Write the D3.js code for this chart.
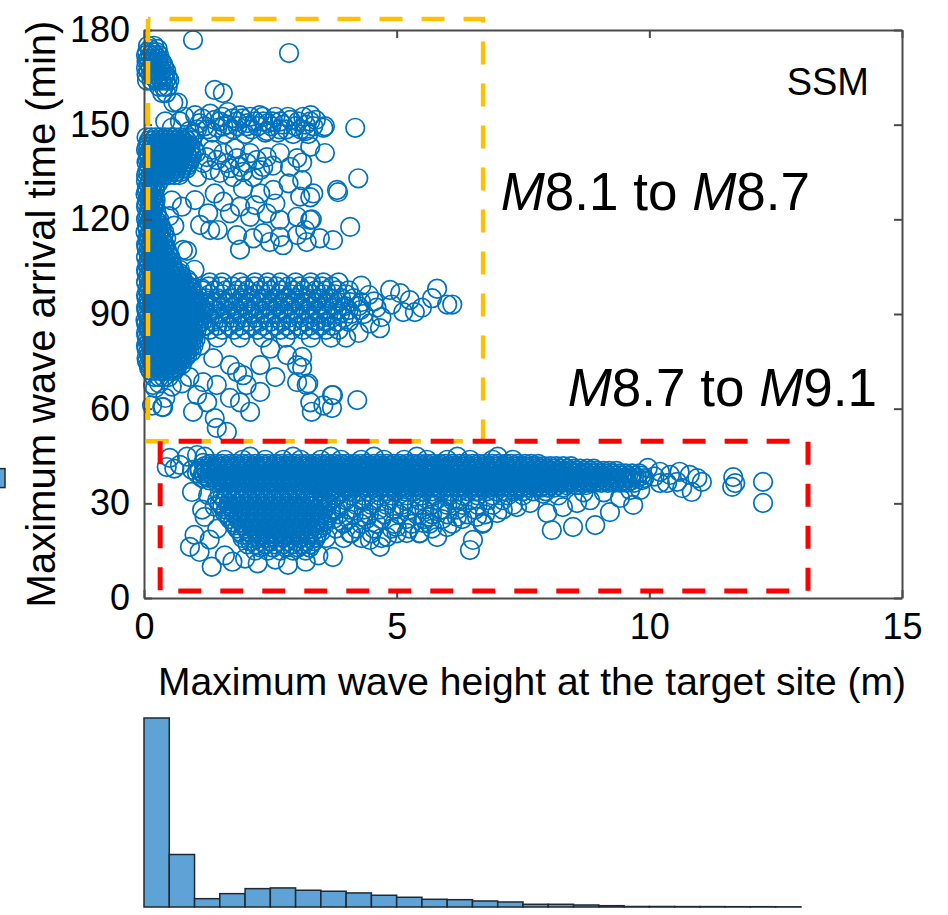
<!DOCTYPE html>
<html><head><meta charset="utf-8">
<script src="https://cdn.jsdelivr.net/npm/d3@7"></script>
<style>body{margin:0;background:#fff}</style>
</head><body>
<svg id="c" width="948" height="915"></svg>
<script>
// ---------- tick values ----------
const xTicks = [0, 5, 10, 15];
const yTicks = [0, 30, 60, 90, 120, 150, 180];

// ---------- scatter data (height m, arrival min) ----------
// dense zones written as rows: [arrival, [heights...]]
const topLeftRows = [
  [175, [0.08, 0.2]],
  [174, [0.12, 0.27]],
  [173, [0.06, 0.17, 0.25]],
  [172, [0.04, 0.13, 0.22, 0.3]],
  [171, [0.09, 0.19, 0.28]],
  [170, [0.05, 0.17, 0.26, 0.35]],
  [169, [0.1, 0.2, 0.3, 0.38]],
  [168, [0.04, 0.13, 0.22, 0.31, 0.4]],
  [167, [0.09, 0.18, 0.27, 0.36, 0.44]],
  [166, [0.05, 0.14, 0.23, 0.32, 0.41]],
  [165, [0.2, 0.3, 0.39, 0.47]],
  [164, [0.06, 0.15, 0.25, 0.34, 0.43, 0.5]],
  [162, [0.3, 0.39, 0.47]],
  [160, [0.36, 0.44]]
];
const blockRows = [
  [146, [0.05, 0.14, 0.23, 0.33, 0.42, 0.52, 0.61, 0.71, 0.8, 0.9]],
  [145, [0.1, 0.19, 0.28, 0.38, 0.47, 0.57, 0.66, 0.76, 0.85, 0.95]],
  [144, [0.08, 0.18, 0.28, 0.37, 0.47, 0.56, 0.66, 0.75, 0.85]],
  [143, [0.06, 0.15, 0.25, 0.34, 0.44, 0.53, 0.63, 0.72, 0.82, 0.92]],
  [142, [0.04, 0.13, 0.23, 0.32, 0.42, 0.51, 0.61, 0.7, 0.8, 0.9, 1.0]],
  [141, [0.08, 0.17, 0.27, 0.36, 0.46, 0.55, 0.65, 0.74, 0.84, 0.94, 1.03]],
  [140, [0.09, 0.18, 0.28, 0.37, 0.47, 0.56, 0.66, 0.76, 0.85, 0.95]],
  [139, [0.07, 0.16, 0.26, 0.35, 0.45, 0.54, 0.64, 0.73, 0.83, 0.92]],
  [138, [0.05, 0.14, 0.24, 0.33, 0.43, 0.52, 0.62, 0.71, 0.81, 0.9]],
  [137, [0.1, 0.2, 0.29, 0.39, 0.48, 0.58, 0.67, 0.77, 0.86]],
  [136, [0.08, 0.18, 0.27, 0.37, 0.46, 0.56, 0.65, 0.75, 0.84]],
  [135, [0.06, 0.16, 0.25, 0.35, 0.44, 0.54, 0.63, 0.73]],
  [134, [0.04, 0.13, 0.22, 0.32, 0.41, 0.5, 0.6, 0.7]]
];
const stripRows = [
  [132, [0.04, 0.12, 0.2, 0.3]],
  [131, [0.09, 0.17, 0.26]],
  [130, [0.06, 0.15, 0.22]],
  [129, [0.05, 0.14, 0.21]],
  [128, [0.03, 0.11, 0.19]],
  [127, [0.09, 0.18]],
  [126, [0.07, 0.15, 0.23]],
  [125, [0.05, 0.13, 0.21]],
  [124, [0.04, 0.12, 0.2]],
  [123, [0.1, 0.19]],
  [122, [0.08, 0.16, 0.25]],
  [121, [0.06, 0.15, 0.25]],
  [120, [0.04, 0.13, 0.22, 0.3]],
  [119, [0.1, 0.19, 0.28]],
  [118, [0.06, 0.15, 0.24, 0.33]],
  [117, [0.07, 0.16, 0.26, 0.35]],
  [116, [0.03, 0.12, 0.21, 0.3, 0.4]],
  [115, [0.1, 0.2, 0.3, 0.39]],
  [114, [0.07, 0.16, 0.25, 0.35, 0.44]],
  [113, [0.09, 0.18, 0.27, 0.37]],
  [112, [0.04, 0.13, 0.22, 0.32, 0.41]],
  [111, [0.05, 0.13, 0.22, 0.31, 0.41]],
  [110, [0.08, 0.17, 0.27, 0.36, 0.46]],
  [109, [0.09, 0.18, 0.28, 0.37, 0.47]],
  [108, [0.04, 0.13, 0.23, 0.32, 0.42, 0.52]],
  [107, [0.1, 0.2, 0.29, 0.39, 0.49]],
  [106, [0.07, 0.17, 0.26, 0.36, 0.45, 0.55]],
  [105, [0.09, 0.18, 0.28, 0.37, 0.47, 0.56]],
  [104, [0.04, 0.13, 0.23, 0.32, 0.42, 0.51, 0.6]],
  [103, [0.05, 0.14, 0.24, 0.33, 0.42, 0.52, 0.62, 0.7]],
  [102, [0.08, 0.18, 0.27, 0.37, 0.46, 0.56, 0.65, 0.75]],
  [101, [0.09, 0.18, 0.28, 0.37, 0.47, 0.56, 0.66, 0.75, 0.85]],
  [100, [0.04, 0.14, 0.23, 0.33, 0.42, 0.52, 0.61, 0.71, 0.8, 0.9]]
];
const blobRows = [
  [99, [0.11, 0.21, 0.3, 0.4, 0.49, 0.59, 0.68, 0.78, 0.87]],
  [98, [0.07, 0.17, 0.26, 0.36, 0.45, 0.55, 0.64, 0.74, 0.83, 0.93]],
  [97, [0.09, 0.18, 0.28, 0.37, 0.47, 0.56, 0.66, 0.75, 0.85, 0.94]],
  [96, [0.04, 0.13, 0.23, 0.32, 0.42, 0.51, 0.61, 0.7, 0.8, 0.89, 0.99]],
  [95, [0.05, 0.15, 0.24, 0.34, 0.43, 0.53, 0.62, 0.72, 0.81, 0.91, 1.0]],
  [94, [0.08, 0.18, 0.27, 0.37, 0.46, 0.56, 0.65, 0.75, 0.84, 0.94, 1.03]],
  [93, [0.09, 0.18, 0.28, 0.37, 0.47, 0.56, 0.66, 0.75, 0.85, 0.94, 1.04]],
  [92, [0.04, 0.14, 0.23, 0.33, 0.42, 0.52, 0.61, 0.71, 0.8, 0.9, 0.99]],
  [91, [0.05, 0.14, 0.24, 0.33, 0.43, 0.52, 0.62, 0.71, 0.81, 0.9, 1.0]],
  [90, [0.07, 0.17, 0.26, 0.36, 0.45, 0.55, 0.64, 0.74, 0.83, 0.93, 1.02]],
  [89, [0.08, 0.18, 0.27, 0.37, 0.46, 0.56, 0.65, 0.75, 0.84, 0.94, 1.03]],
  [88, [0.03, 0.13, 0.22, 0.32, 0.41, 0.51, 0.6, 0.7, 0.79, 0.89, 0.98, 1.07]],
  [87, [0.04, 0.13, 0.23, 0.32, 0.42, 0.51, 0.61, 0.7, 0.8, 0.89, 0.99, 1.08]],
  [86, [0.08, 0.17, 0.27, 0.36, 0.46, 0.55, 0.65, 0.74, 0.84, 0.93, 1.03]],
  [85, [0.09, 0.18, 0.28, 0.37, 0.47, 0.56, 0.66, 0.75, 0.85, 0.94, 1.04]],
  [84, [0.04, 0.14, 0.23, 0.33, 0.42, 0.52, 0.61, 0.71, 0.8, 0.9, 0.99]],
  [83, [0.05, 0.14, 0.24, 0.33, 0.43, 0.52, 0.62, 0.71, 0.81, 0.9, 0.99]],
  [82, [0.07, 0.17, 0.26, 0.36, 0.45, 0.55, 0.64, 0.74, 0.83, 0.93, 1.02]],
  [81, [0.09, 0.18, 0.28, 0.37, 0.47, 0.56, 0.66, 0.75, 0.85, 0.94]],
  [80, [0.04, 0.13, 0.23, 0.32, 0.42, 0.51, 0.61, 0.7, 0.8, 0.89, 0.98]],
  [79, [0.05, 0.14, 0.24, 0.33, 0.43, 0.52, 0.62, 0.71, 0.81, 0.9]],
  [78, [0.08, 0.18, 0.27, 0.37, 0.46, 0.56, 0.65, 0.75, 0.84, 0.94]],
  [77, [0.1, 0.19, 0.29, 0.38, 0.48, 0.57, 0.67, 0.76, 0.86]],
  [76, [0.05, 0.14, 0.24, 0.33, 0.43, 0.52, 0.62, 0.71, 0.81]],
  [75, [0.06, 0.15, 0.25, 0.34, 0.44, 0.53, 0.63, 0.72]],
  [74, [0.09, 0.18, 0.28, 0.37, 0.47, 0.56, 0.66, 0.75]],
  [73, [0.1, 0.19, 0.29, 0.38, 0.48, 0.57, 0.65]],
  [72, [0.13, 0.22, 0.32, 0.41, 0.51, 0.6]],
  [70, [0.2, 0.3, 0.39, 0.49]]
];
const band90Rows = [
  [100, [1.3, 1.55, 1.9, 2.2, 2.45, 2.7, 3.0, 3.3, 3.55, 3.85]],
  [98.75, [1.28, 1.52, 1.75, 1.98, 2.18, 2.42, 2.62, 2.85, 3.08, 3.28, 3.52, 3.72]],
  [97.5, [1.15, 1.4, 1.62, 1.85, 2.05, 2.3, 2.5, 2.72, 2.95, 3.15, 3.4, 3.6, 3.82, 4.05]],
  [96.25, [1.3, 1.55, 1.8, 2.0, 2.22, 2.45, 2.68, 2.9, 3.1, 3.32, 3.55, 3.78, 4.0]],
  [95, [1.22, 1.45, 1.7, 1.92, 2.12, 2.35, 2.58, 2.8, 3.0, 3.22, 3.45, 3.68, 3.9, 4.15]],
  [93.75, [1.2, 1.42, 1.62, 1.85, 2.06, 2.3, 2.52, 2.75, 2.95, 3.17, 3.4, 3.62, 3.85, 4.08, 4.3]],
  [92.5, [1.12, 1.35, 1.55, 1.78, 2.0, 2.22, 2.45, 2.65, 2.88, 3.1, 3.32, 3.52, 3.75, 3.98, 4.25]],
  [91.25, [1.18, 1.4, 1.62, 1.84, 2.08, 2.3, 2.52, 2.74, 2.96, 3.18, 3.4, 3.6, 3.82, 4.05, 4.28]],
  [90, [1.25, 1.48, 1.7, 1.9, 2.15, 2.38, 2.6, 2.8, 3.02, 3.25, 3.45, 3.65, 3.88, 4.1, 4.35]],
  [88.75, [1.3, 1.52, 1.74, 1.96, 2.2, 2.42, 2.64, 2.86, 3.08, 3.3, 3.52, 3.72, 3.95]],
  [87.5, [1.15, 1.38, 1.6, 1.82, 2.05, 2.28, 2.5, 2.72, 2.95, 3.18, 3.4, 3.6, 3.82, 4.05]],
  [86.25, [1.22, 1.45, 1.68, 1.9, 2.14, 2.36, 2.6, 2.82, 3.05, 3.28, 3.5, 3.72]],
  [85, [1.3, 1.55, 1.78, 2.0, 2.25, 2.48, 2.7, 2.92, 3.15, 3.38, 3.6, 3.85]],
  [82.5, [1.45, 1.9, 2.35, 2.8, 3.3, 3.7]]
];
const bandRows = [
  [44.8, [1.2, 2.1, 2.95, 3.7, 4.55, 5.4, 6.2, 7.0]],
  [43.8, [1.6, 1.95, 2.4, 2.75, 3.1, 3.5, 3.9, 4.3, 4.75, 5.15, 5.6, 6.0, 6.45, 6.9, 7.3]],
  [42.5, [1.3, 1.43, 1.55, 1.69, 1.81, 1.95, 2.07, 2.2, 2.34, 2.46, 2.6, 2.72, 2.86, 2.98, 3.11, 3.25, 3.37, 3.5, 3.64, 3.76, 3.9, 4.02, 4.15, 4.29, 4.41, 4.55, 4.67, 4.8, 4.94, 5.06, 5.2, 5.32, 5.45, 5.59, 5.71, 5.85, 5.97, 6.1, 6.24, 6.36, 6.5, 6.62, 6.75, 6.89, 7.01, 7.15, 7.27, 7.4, 7.54, 7.66, 7.8]],
  [41.75, [1.2, 1.32, 1.45, 1.58, 1.7, 1.83, 1.96, 2.08, 2.21, 2.34, 2.46, 2.59, 2.72, 2.84, 2.97, 3.1, 3.22, 3.35, 3.48, 3.6, 3.73, 3.86, 3.98, 4.11, 4.24, 4.36, 4.49, 4.62, 4.74, 4.87, 5.0, 5.12, 5.25, 5.38, 5.5, 5.63, 5.76, 5.88, 6.01, 6.14, 6.26, 6.39, 6.52, 6.64, 6.77, 6.9, 7.02, 7.15, 7.28, 7.4, 7.53, 7.66, 7.78, 7.91, 8.04, 8.16, 8.3, 8.45]],
  [41, [1.1, 1.22, 1.36, 1.48, 1.62, 1.74, 1.88, 2.0, 2.13, 2.27, 2.39, 2.53, 2.65, 2.78, 2.92, 3.04, 3.18, 3.3, 3.43, 3.57, 3.69, 3.83, 3.95, 4.08, 4.22, 4.34, 4.48, 4.6, 4.73, 4.87, 4.99, 5.13, 5.25, 5.38, 5.52, 5.64, 5.78, 5.9, 6.03, 6.17, 6.29, 6.43, 6.55, 6.68, 6.82, 6.94, 7.08, 7.2, 7.33, 7.47, 7.59, 7.73, 7.85, 7.98, 8.12, 8.24, 8.38, 8.5, 8.63, 8.77, 8.9]],
  [40.25, [1.1, 1.23, 1.36, 1.49, 1.61, 1.74, 1.87, 1.99, 2.12, 2.25, 2.37, 2.5, 2.63, 2.75, 2.88, 3.01, 3.13, 3.26, 3.39, 3.51, 3.64, 3.77, 3.89, 4.02, 4.15, 4.27, 4.4, 4.53, 4.65, 4.78, 4.91, 5.03, 5.16, 5.29, 5.41, 5.54, 5.67, 5.79, 5.92, 6.05, 6.17, 6.3, 6.43, 6.55, 6.68, 6.81, 6.93, 7.06, 7.19, 7.31, 7.44, 7.57, 7.69, 7.82, 7.95, 8.07, 8.2, 8.33, 8.45, 8.58, 8.71, 8.83, 8.96, 9.09, 9.21, 9.35]],
  [39.5, [1.05, 1.17, 1.3, 1.43, 1.55, 1.68, 1.81, 1.93, 2.06, 2.19, 2.31, 2.44, 2.57, 2.69, 2.82, 2.95, 3.07, 3.2, 3.33, 3.45, 3.58, 3.71, 3.83, 3.96, 4.09, 4.21, 4.34, 4.47, 4.59, 4.72, 4.85, 4.97, 5.1, 5.23, 5.35, 5.48, 5.61, 5.73, 5.86, 5.99, 6.11, 6.24, 6.37, 6.49, 6.62, 6.75, 6.87, 7.0, 7.13, 7.25, 7.38, 7.51, 7.63, 7.76, 7.89, 8.01, 8.14, 8.27, 8.39, 8.52, 8.65, 8.77, 8.9, 9.03, 9.15, 9.28, 9.41, 9.53, 9.66, 9.8]],
  [38.75, [1.2, 1.34, 1.47, 1.6, 1.72, 1.85, 1.98, 2.1, 2.23, 2.36, 2.48, 2.61, 2.74, 2.86, 2.99, 3.12, 3.24, 3.37, 3.5, 3.62, 3.75, 3.88, 4.0, 4.13, 4.26, 4.38, 4.51, 4.64, 4.76, 4.89, 5.02, 5.14, 5.27, 5.4, 5.52, 5.65, 5.78, 5.9, 6.03, 6.16, 6.28, 6.41, 6.54, 6.66, 6.79, 6.92, 7.04, 7.17, 7.3, 7.42, 7.55, 7.68, 7.8, 7.93, 8.06, 8.18, 8.31, 8.44, 8.56, 8.69, 8.82, 8.94, 9.07, 9.2, 9.32, 9.45, 9.58, 9.7, 9.84]],
  [38, [1.15, 1.28, 1.4, 1.53, 1.66, 1.78, 1.91, 2.04, 2.16, 2.29, 2.42, 2.54, 2.67, 2.8, 2.92, 3.05, 3.18, 3.3, 3.43, 3.56, 3.68, 3.81, 3.94, 4.06, 4.19, 4.32, 4.44, 4.57, 4.7, 4.82, 4.95, 5.08, 5.2, 5.33, 5.46, 5.58, 5.71, 5.84, 5.96, 6.09, 6.22, 6.34, 6.47, 6.6, 6.72, 6.85, 6.98, 7.1, 7.23, 7.36, 7.48, 7.61, 7.74, 7.86, 7.99, 8.12, 8.24, 8.37, 8.5, 8.62, 8.75, 8.88, 9.0, 9.13, 9.26, 9.38, 9.51, 9.64, 9.76, 9.9]],
  [37.25, [1.3, 1.52, 1.64, 1.77, 1.9, 2.02, 2.15, 2.28, 2.4, 2.53, 2.66, 2.78, 2.91, 3.04, 3.16, 3.29, 3.42, 3.54, 3.67, 3.8, 3.92, 4.05, 4.18, 4.3, 4.43, 4.56, 4.68, 4.81, 4.94, 5.06, 5.19, 5.32, 5.44, 5.57, 5.7, 5.82, 5.95, 6.08, 6.2, 6.33, 6.46, 6.58, 6.71, 6.84, 6.96, 7.09, 7.22, 7.34, 7.47, 7.6, 7.72, 7.85, 7.98, 8.1, 8.23, 8.36, 8.48, 8.61, 8.74, 8.86, 8.99, 9.12, 9.24, 9.37, 9.5, 9.64]],
  [36.5, [1.45, 1.58, 1.7, 1.83, 1.96, 2.08, 2.21, 2.34, 2.46, 2.59, 2.72, 2.84, 2.97, 3.1, 3.22, 3.35, 3.48, 3.6, 3.73, 3.86, 3.98, 4.11, 4.24, 4.36, 4.49, 4.62, 4.74, 4.87, 5.0, 5.12, 5.25, 5.38, 5.5, 5.63, 5.76, 5.88, 6.01, 6.14, 6.26, 6.39, 6.52, 6.64, 6.77, 6.9, 7.02, 7.15, 7.28, 7.4, 7.53, 7.66, 7.78, 7.91, 8.04, 8.16, 8.29, 8.42, 8.54, 8.67, 8.8, 8.92, 9.05, 9.18, 9.3, 9.43, 9.56, 9.7]],
  [35.75, [3.36, 3.49, 3.62, 3.75, 3.87, 4.0, 4.13, 4.25, 4.38, 4.51, 4.63, 4.76, 4.89, 5.01, 5.14, 5.27, 5.39, 5.52, 5.65, 5.77, 5.9, 6.03, 6.15, 6.28, 6.41, 6.53, 6.66, 6.79, 6.91, 7.04, 7.17, 7.29, 7.42, 7.55, 7.67, 7.8, 7.93, 8.05, 8.18, 8.35, 8.55, 8.75]],
  [35, [3.3, 3.43, 3.56, 3.68, 3.81, 3.94, 4.06, 4.19, 4.32, 4.44, 4.57, 4.7, 4.82, 4.95, 5.08, 5.2, 5.33, 5.46, 5.58, 5.71, 5.84, 5.96, 6.09, 6.22, 6.34, 6.47, 6.6, 6.72, 6.85, 6.98, 7.1, 7.23, 7.36, 7.48, 7.61, 7.74, 7.86, 7.99, 8.12, 8.3]],
  [33.8, [3.55, 3.72, 3.9, 4.08, 4.26, 4.44, 4.62, 4.8, 4.98, 5.16, 5.34, 5.52, 5.7, 5.88, 6.06, 6.24, 6.42, 6.6, 6.78, 6.96, 7.14, 7.32, 7.5, 7.7, 7.95]]
];
const wedgeRows = [
  [33, [1.5, 1.65, 1.82, 1.98, 2.14, 2.3, 2.46, 2.62, 2.78, 2.94, 3.1, 3.26]],
  [32, [1.55, 1.72, 1.9, 2.06, 2.22, 2.38, 2.54, 2.7, 2.86, 3.02, 3.18, 3.34]],
  [31, [1.45, 1.6, 1.76, 1.92, 2.08, 2.24, 2.4, 2.56, 2.72, 2.88, 3.04, 3.2, 3.36, 3.52]],
  [30, [1.5, 1.68, 1.84, 2.0, 2.16, 2.32, 2.48, 2.64, 2.8, 2.96, 3.12, 3.28, 3.44, 3.6]],
  [29, [1.55, 1.7, 1.86, 2.02, 2.18, 2.34, 2.5, 2.66, 2.82, 2.98, 3.14, 3.3, 3.46, 3.62]],
  [28, [1.62, 1.78, 1.94, 2.1, 2.26, 2.42, 2.58, 2.74, 2.9, 3.06, 3.22, 3.38, 3.54, 3.7]],
  [27, [1.6, 1.78, 1.94, 2.1, 2.26, 2.42, 2.58, 2.74, 2.9, 3.06, 3.22, 3.38, 3.54, 3.7]],
  [26, [1.66, 1.86, 2.02, 2.18, 2.34, 2.5, 2.66, 2.82, 2.98, 3.14, 3.3, 3.46, 3.62]],
  [25, [1.7, 1.86, 2.02, 2.18, 2.34, 2.5, 2.66, 2.82, 2.98, 3.14, 3.3, 3.46, 3.62]],
  [24, [1.76, 1.94, 2.1, 2.26, 2.42, 2.58, 2.74, 2.9, 3.06, 3.22, 3.38, 3.54]],
  [23, [1.8, 1.96, 2.12, 2.28, 2.44, 2.6, 2.76, 2.92, 3.08, 3.24, 3.4, 3.56]],
  [22, [1.84, 2.02, 2.18, 2.34, 2.5, 2.66, 2.82, 2.98, 3.14, 3.3, 3.46]],
  [21, [1.9, 2.06, 2.22, 2.38, 2.54, 2.7, 2.86, 3.02, 3.18, 3.34, 3.5]],
  [20, [1.95, 2.14, 2.3, 2.46, 2.62, 2.78, 2.94, 3.1, 3.26, 3.42]],
  [19, [1.95, 2.12, 2.28, 2.44, 2.6, 2.76, 2.92, 3.08, 3.24, 3.4]],
  [18, [2.1, 2.3, 2.48, 2.66, 2.84, 3.02, 3.2, 3.36]],
  [17, [2.05, 2.22, 2.4, 2.58, 2.76, 2.94, 3.12, 3.3]],
  [16, [2.3, 2.55, 2.8, 3.05, 3.28]],
  [15, [2.2, 2.45, 2.7, 2.95, 3.2]]
];
const lowerMidRows = [
  [32.5, [3.8, 4.1, 4.35, 4.65, 4.9, 5.2, 5.5, 5.75, 6.05, 6.3, 6.6, 6.9, 7.2, 7.5]],
  [31, [3.7, 4.0, 4.3, 4.55, 4.85, 5.15, 5.45, 5.75, 6.1, 6.45, 6.8, 7.1]],
  [29.5, [3.9, 4.2, 4.5, 4.8, 5.1, 5.4, 5.7, 6.0, 6.3, 6.6, 6.9, 7.3]],
  [28, [3.8, 4.05, 4.35, 4.65, 4.95, 5.25, 5.55, 5.9, 6.2, 6.55, 7.1]],
  [26.5, [3.85, 4.15, 4.45, 4.75, 5.05, 5.4, 5.7, 6.0, 6.4, 6.75]],
  [25, [3.75, 4.05, 4.4, 4.7, 5.2, 5.55, 5.9, 6.3]],
  [23.5, [3.95, 4.3, 4.6, 4.95, 5.3, 5.65, 6.1, 6.7]],
  [22, [3.8, 4.2, 4.55, 4.9, 5.25, 5.7]],
  [20.5, [4.1, 4.5, 5.0, 5.45]],
  [19, [3.6, 3.95, 4.3, 4.7]]
];
// sparse points as [height, arrival]
const blobFringe = [[0.77,110.3],[0.71,104],[0.85,110],[0.75,124],[1.05,133.4],[0.55,126],[0.6,118],[1.15,98],[1.2,93],[1.18,86],[1.12,80],[0.9,70],[0.75,68],[0.55,67],[0.3,68],[0.22,66.5],[0.42,63.4],[0.36,60.5],[0.16,61],[1.0,104],[0.5,121],[0.58,157],[0.67,157]];
const row150Pts = [[0.42,151],[0.71,151],[1.01,153],[1.31,153.5],[1.5,151],[1.66,154],[1.9,153],[2.03,149.5],[2.2,151],[2.36,151],[2.52,149.5],[2.69,151],[2.82,148.5],[3.0,149.5],[3.15,152.5],[3.29,151],[3.55,149],[1.2,149.5],[1.57,149.5],[1.76,148.5],[2.13,148.5],[2.43,148],[2.95,147],[2.69,148.5],[1.4,151.5],[1.84,151],[2.29,153],[3.2,148],[0.9,148],[1.1,150.5],[1.75,152],[2.1,152.5],[2.6,152.5],[2.45,150.5],[2.9,151.5],[3.4,151.5],[1.0,147],[1.35,147.5],[1.6,147],[2.0,147],[3.2,150],[3.3,153],[3.25,147],[1.15,152],[1.25,148.5],[1.45,149],[1.55,152.5],[1.65,150],[1.85,149.5],[1.95,152],[2.05,150.5],[2.25,149.5],[2.35,152.5],[2.55,151],[2.75,150],[2.85,152.5],[3.05,151],[3.1,148.5],[3.35,149.5],[0.55,149],[0.8,152.5],[1.05,148.5],[2.4,147.5],[2.65,147.5]];
const band138Pts = [[1.24,139.7],[1.44,138.8],[1.64,137.8],[1.84,139.4],[2.04,137.8],[2.23,138.8],[2.36,136.6],[1.5,134.7],[1.76,133.4],[1.96,135],[2.16,133.4],[1.31,135.6],[2.43,139.7],[2.69,141],[2.89,136.6],[1.9,136.6],[1.57,141],[2.1,141],[1.17,137.8],[1.7,136.2],[2.3,135.6],[1.35,142],[1.8,142.5],[2.55,137]];
const scatterUpperPts = [[1.01,126.1],[1.4,128.2],[1.57,125.6],[1.96,129.8],[2.3,128.2],[2.56,129.3],[2.86,131.4],[3.09,127.2],[3.35,128.2],[1.27,121.9],[1.7,121.9],[2.1,120.8],[2.43,121.9],[2.69,119.8],[3.03,120.8],[3.29,119.8],[1.9,124],[3.82,129.3],[1.11,118.2],[1.31,116.6],[1.46,116.6],[1.84,115],[1.9,110.4],[2.16,114],[2.36,115.6],[2.49,112.8],[2.69,114.4],[2.75,111.8],[3.03,115],[3.22,112.8],[3.48,114],[3.74,113.4],[3.58,141],[4.24,133],[3.84,128.6],[3.29,127],[3.32,120],[4.08,117.6],[3.19,116.6],[3.13,132.4],[3.13,138],[4.18,149],[3.58,149.5],[3.03,139.4],[3.29,143],[0.97,176.8],[2.87,172.7],[1.4,161],[1.56,160],[2.2,124.5],[2.6,125]];
const band90Ext = [[4.45,96],[4.6,92],[4.7,89],[4.87,97.6],[5.07,96.6],[5.26,94.4],[5.13,90.6],[5.36,90.6],[4.67,85.5],[4.47,87],[5.8,98],[6.0,93],[6.1,93],[5.7,95],[4.3,99],[4.55,94],[4.9,93],[5.5,92],[4.25,84],[4.0,82.5]];
const belowBand90Pts = [[1.37,76],[1.7,73.8],[1.17,68.4],[1.44,67.5],[1.05,64.3],[1.25,62],[0.38,60.5],[0.18,67.5],[0.97,59],[1.4,57],[1.44,53.9],[1.64,52.6],[1.9,62],[2.03,67.5],[1.96,70.6],[2.3,73.8],[2.3,65.3],[2.1,59],[2.83,77],[3.03,73.8],[3.03,68.4],[3.22,67.5],[3.29,62],[3.55,61],[3.74,64.3],[1.84,71.6],[1.7,63.4],[4.22,62.7],[3.72,64.3],[3.32,59],[3.72,60.2],[3.25,68],[3.13,76.4],[3.13,73],[2.5,79],[2.6,70]];
const leftLowerPts = [[0.51,44.4],[0.71,42.2],[0.95,40.6],[1.05,45.3],[1.17,42.8],[0.85,44.8],[0.6,41],[0.45,41.5],[0.91,16.2],[1.1,14.6],[1.34,9.9],[1.2,25.7],[0.95,33.6],[1.27,32.6],[1.0,20],[1.3,18.5],[1.45,22],[1.6,13.5],[1.75,11.5],[2.0,12.5],[2.25,11],[2.6,12.2],[2.85,10.5],[3.2,11.5],[3.45,13.5],[1.4,29],[1.15,28]];
const lowerPts = [[3.74,13],[4.67,16.2],[5.0,22.5],[5.46,20.6],[5.8,19.3],[6.45,15.2],[6.51,18.4],[6.71,23.8],[6.99,26.9],[7.38,28.8],[7.64,30.1],[7.98,26.9],[8.07,21.5],[8.29,28.8],[8.49,22.5],[6.25,31],[6.19,25.7],[5.66,25.7],[5.13,28.8],[4.33,25.7],[4.08,20.6],[3.94,23.8],[4.47,18.4],[4.81,19.3],[5.2,20.6],[5.52,23.8],[5.86,27.9],[6.0,22.5],[6.59,25.7],[9.68,29.5],[9.42,31.7],[9.22,27.2],[8.93,23.1],[8.57,30.1],[8.83,31],[9.62,34.2],[9.82,34.2],[8.2,32.5],[8.7,33.5],[7.9,33],[9.1,33.5]];
const tailPts = [[9.97,41.2],[10.21,40],[10.41,39],[10.6,40],[10.8,39],[11.04,36.8],[10.84,33.6],[10.35,36.4],[10.55,36.8],[10.21,36.4],[10.1,38.5],[11.66,38.3],[11.7,36.4],[11.64,35.2],[12.25,36.8],[12.25,30.1],[9.86,37.4],[10.65,34.8],[10.95,38]];

// ---------- histogram of wave height (bottom) ----------
const histEdges = [0,0.5,1,1.5,2,2.5,3,3.5,4,4.5,5,5.5,6,6.5,7,7.5,8,8.5,9,9.5,10,10.5,11,11.5,12,12.5,13];
const histCounts = [1883,523,83,133,183,190,167,157,140,117,97,77,73,60,50,27,27,20,13,5,5,4,4,3,3,2];
// one bin of the (cropped) left-side histogram of arrival time
const leftHistBin = [35, 41];

// ---------- highlighted regions [x0, y0, x1, y1] ----------
const yellowBox = [0.08, 49.7, 6.71, 183.5];
const redBox = [0.32, 2.2, 13.14, 49.7];

// ================= drawing =================
const svg = d3.select('#c');
const font = "'Liberation Sans', Arial, Helvetica, sans-serif";
const x = d3.scaleLinear().domain([0, 15]).range([144, 902]);
const y = d3.scaleLinear().domain([0, 180]).range([598, 30]);

const pts = [];
[topLeftRows, blockRows, stripRows, blobRows, band90Rows, bandRows, wedgeRows, lowerMidRows]
  .forEach(rows => rows.forEach(([yy, xs]) => xs.forEach(xx => pts.push([xx, yy]))));
[blobFringe, row150Pts, band138Pts, scatterUpperPts, band90Ext, belowBand90Pts, leftLowerPts, lowerPts, tailPts]
  .forEach(a => a.forEach(p => pts.push(p)));

// left cropped histogram bar
svg.append('rect')
  .attr('x', -20).attr('width', 25)
  .attr('y', y(leftHistBin[1])).attr('height', y(leftHistBin[0]) - y(leftHistBin[1]))
  .attr('fill', '#5fa2d6').attr('stroke', '#1f2a33').attr('stroke-width', 1.5);

// scatter
svg.append('g').selectAll('circle').data(pts).join('circle')
  .attr('cx', d => x(d[0])).attr('cy', d => y(d[1])).attr('r', 9.3)
  .attr('fill', 'none').attr('stroke', '#0072BD').attr('stroke-width', 1.7);

// axes (box)
const axCol = '#4a4a4a';
function styleAxis(g) {
  g.attr('font-family', font).attr('font-size', 36);
  g.select('.domain').attr('stroke', axCol).attr('stroke-width', 2);
  g.selectAll('.tick line').attr('stroke', axCol).attr('stroke-width', 2);
  g.selectAll('.tick text').attr('fill', '#000');
}
svg.append('g').attr('transform', 'translate(0,598)')
  .call(d3.axisBottom(x).tickValues(xTicks).tickSizeInner(-8).tickSizeOuter(0).tickPadding(15).tickFormat(d3.format('d')))
  .call(styleAxis);
svg.append('g').attr('transform', 'translate(0,30)')
  .call(d3.axisTop(x).tickValues(xTicks).tickSizeInner(-8).tickSizeOuter(0).tickFormat(() => ''))
  .call(styleAxis);
svg.append('g').attr('transform', 'translate(144,0)')
  .call(d3.axisLeft(y).tickValues(yTicks).tickSizeInner(-8).tickSizeOuter(0).tickPadding(14).tickFormat(d3.format('d')))
  .call(styleAxis);
svg.append('g').attr('transform', 'translate(902,0)')
  .call(d3.axisRight(y).tickValues(yTicks).tickSizeInner(-8).tickSizeOuter(0).tickFormat(() => ''))
  .call(styleAxis);

// dashed region boxes
function boxPath(b) {
  const [x0, y0, x1, y1] = b;
  return `M${x(x0)},${y(y1)}V${y(y0)}H${x(x1)}V${y(y1)}H${x(x0)}`;
}
svg.append('path').attr('d', boxPath(yellowBox)).attr('fill', 'none')
  .attr('stroke', '#FFC000').attr('stroke-width', 4.5).attr('stroke-dasharray', '23,19');
svg.append('path').attr('d', boxPath(redBox)).attr('fill', 'none')
  .attr('stroke', '#FF0000').attr('stroke-width', 5).attr('stroke-dasharray', '23,19');

// annotations
function magText(xp, yp, a, b) {
  const t = svg.append('text').attr('x', xp).attr('y', yp).attr('text-anchor', 'end')
    .attr('font-family', font).attr('font-size', 53).attr('fill', '#000');
  t.append('tspan').attr('font-style', 'italic').text('M');
  t.append('tspan').text(a + ' to ');
  t.append('tspan').attr('font-style', 'italic').text('M');
  t.append('tspan').text(b);
}
magText(810, 210, '8.1', '8.7');
magText(877, 406, '8.7', '9.1');
svg.append('text').attr('x', 869).attr('y', 95).attr('text-anchor', 'end')
  .attr('font-family', font).attr('font-size', 38).attr('fill', '#000').text('SSM');

// axis titles
svg.append('text').attr('x', 532).attr('y', 695).attr('text-anchor', 'middle')
  .attr('font-family', font).attr('font-size', 39).attr('fill', '#000')
  .text('Maximum wave height at the target site (m)');
svg.append('text').attr('transform', 'translate(55,314) rotate(-90)').attr('text-anchor', 'middle')
  .attr('font-family', font).attr('font-size', 40).attr('fill', '#000')
  .text('Maximum wave arrival time (min)');

// histogram
const hy = d3.scaleLinear().domain([0, d3.max(histCounts)]).range([907, 718]);
svg.append('g').selectAll('rect').data(histCounts).join('rect')
  .attr('x', (d, i) => x(histEdges[i])).attr('width', (d, i) => x(histEdges[i + 1]) - x(histEdges[i]))
  .attr('y', d => hy(d)).attr('height', d => hy(0) - hy(d))
  .attr('fill', '#5fa2d6').attr('stroke', '#1f2a33').attr('stroke-width', 1.5);
</script>
</body></html>
